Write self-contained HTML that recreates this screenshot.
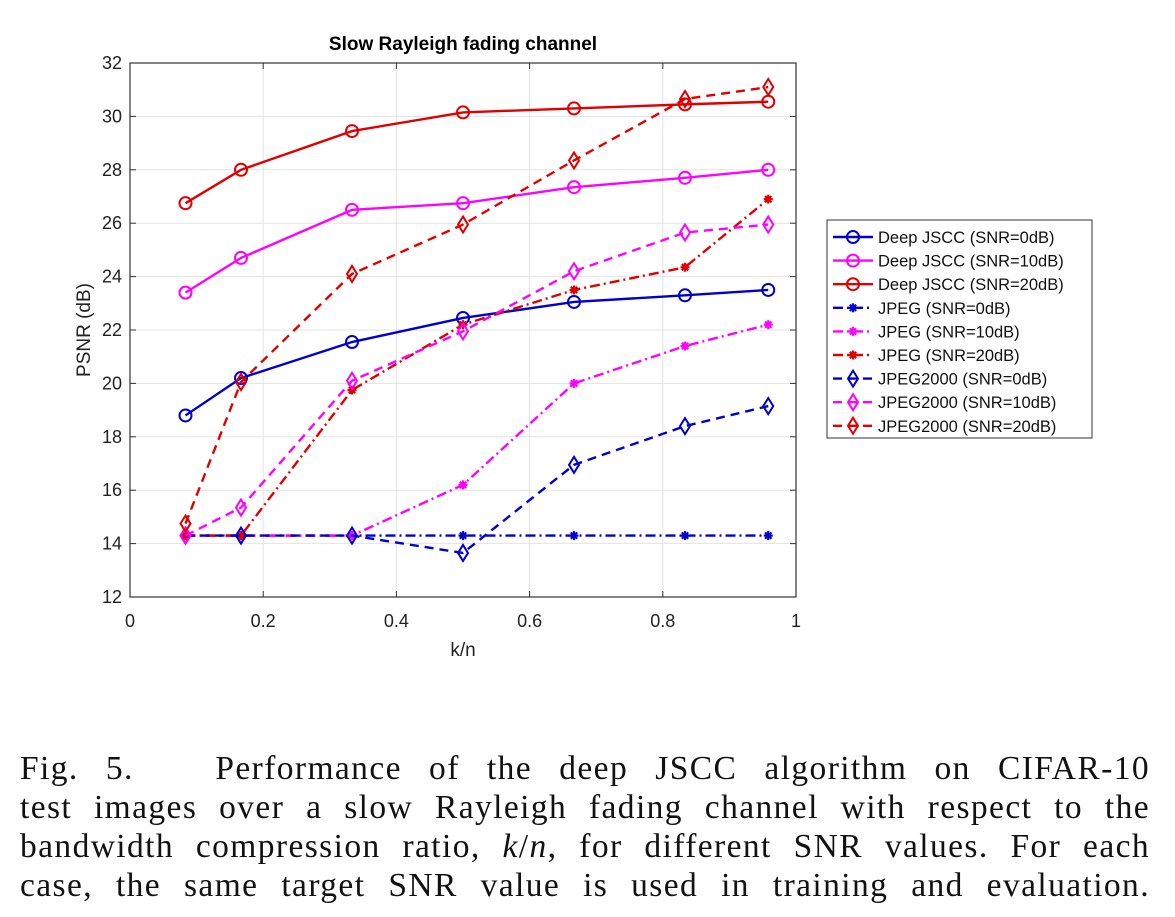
<!DOCTYPE html>
<html><head><meta charset="utf-8"><style>
body{margin:0;background:#fff;width:1175px;height:917px;overflow:hidden;font-family:"Liberation Sans",sans-serif}
#cap{position:absolute;left:20px;top:750px;width:1130px;font-family:"Liberation Serif",serif;font-size:33.5px;line-height:38px;color:#111;letter-spacing:1.4px}
#cap span{display:block;text-align:justify;text-align-last:justify;white-space:normal;height:39px}
</style></head><body>
<svg id="chart" width="1175" height="740" style="position:absolute;left:0;top:0" font-family="Liberation Sans, sans-serif"></svg>
<div id="cap">
<span>Fig. 5.&nbsp;&nbsp; Performance of the deep JSCC algorithm on CIFAR-10</span>
<span>test images over a slow Rayleigh fading channel with respect to the</span>
<span>bandwidth compression ratio, <i>k</i>/<i>n</i>, for different SNR values. For each</span>
<span>case, the same target SNR value is used in training and evaluation.</span>
</div>
<script>
const xs=[1/12,1/6,1/3,1/2,2/3,5/6,23/24];
const dj0=[18.8,20.2,21.55,22.45,23.05,23.3,23.5];
const dj10=[23.4,24.7,26.5,26.75,27.35,27.7,28.0];
const dj20=[26.75,28.0,29.45,30.15,30.3,30.45,30.55];
const jp0=[14.3,14.3,14.3,14.3,14.3,14.3,14.3];
const jp10=[14.3,14.3,14.3,16.2,20.0,21.4,22.2];
const jp20=[14.3,14.3,19.75,22.2,23.5,24.35,26.9];
const jk0=[14.3,14.3,14.3,13.65,16.95,18.4,19.15];
const jk10=[14.3,15.35,20.1,21.95,24.2,25.65,25.95];
const jk20=[14.75,20.05,24.1,25.95,28.35,30.65,31.1];
const xTicks=[0,0.2,0.4,0.6,0.8,1];
const yTicks=[12,14,16,18,20,22,24,26,28,30,32];
const names=["Deep JSCC (SNR=0dB)","Deep JSCC (SNR=10dB)","Deep JSCC (SNR=20dB)","JPEG (SNR=0dB)","JPEG (SNR=10dB)","JPEG (SNR=20dB)","JPEG2000 (SNR=0dB)","JPEG2000 (SNR=10dB)","JPEG2000 (SNR=20dB)"];
const series=[dj0,dj10,dj20,jp0,jp10,jp20,jk0,jk10,jk20];
const B="#0000d0",M="#ff00ff",R="#e00000";
const cols=[B,M,R,B,M,R,B,M,R];
const X0=130,X1=796,Y0=597,Y1=63;
const sx=v=>X0+(X1-X0)*v, sy=v=>Y0-(Y0-Y1)*(v-12)/20;
const svg=document.getElementById('chart');const NS="http://www.w3.org/2000/svg";
function mk(t,a,p){const e=document.createElementNS(NS,t);for(const k in a)e.setAttribute(k,a[k]);(p||svg).appendChild(e);return e;}
for(const t of xTicks){const g=mk('line',{x1:sx(t),x2:sx(t),y1:Y1,y2:Y0,stroke:'#e3e3e3'});
const l=mk('text',{x:sx(t),y:Y0+30,'text-anchor':'middle','font-size':18,fill:'#222'});l.textContent=t;
mk('line',{x1:sx(t),x2:sx(t),y1:Y0,y2:Y0-6,stroke:'#333'});mk('line',{x1:sx(t),x2:sx(t),y1:Y1,y2:Y1+6,stroke:'#333'});}
for(const t of yTicks){const g=mk('line',{x1:X0,x2:X1,y1:sy(t),y2:sy(t),stroke:'#e3e3e3'});
const l=mk('text',{x:X0-8,y:sy(t)+6,'text-anchor':'end','font-size':18,fill:'#222'});l.textContent=t;
mk('line',{x1:X0,x2:X0+6,y1:sy(t),y2:sy(t),stroke:'#333'});mk('line',{x1:X1,x2:X1-6,y1:sy(t),y2:sy(t),stroke:'#333'});}
const ax=mk('rect',{x:X0,y:Y1,width:X1-X0,height:Y0-Y1,fill:'none',stroke:'#333','stroke-width':1.2});
const tt=mk('text',{x:(X0+X1)/2,y:50,'text-anchor':'middle','font-size':19,'font-weight':'bold'});tt.textContent='Slow Rayleigh fading channel';
const xl=mk('text',{x:(X0+X1)/2,y:656,'text-anchor':'middle','font-size':19,fill:'#222'});xl.textContent='k/n';
const yl=mk('text',{x:90,y:330,'text-anchor':'middle','font-size':19,fill:'#222',transform:'rotate(-90 90 330)'});yl.textContent='PSNR (dB)';
function dash(i){return i<3?'':(i<6?'10,4,2,4':'9,6');}
function marker(i,x,y,g){const c=cols[i];
 if(i<3)mk('circle',{cx:x,cy:y,r:6,fill:'none',stroke:c,'stroke-width':2},g);
 else if(i<6){for(const a of[0,45,90,135])mk('line',{x1:x-4.5,x2:x+4.5,y1:y,y2:y,stroke:c,'stroke-width':2.2,transform:`rotate(${a} ${x} ${y})`},g);}
 else mk('polygon',{points:`${x},${y-8} ${x+5},${y} ${x},${y+8} ${x-5},${y}`,fill:'none',stroke:c,'stroke-width':2},g);}
series.forEach((s,i)=>{const g=mk('g',{});
 mk('polyline',{points:s.map((v,j)=>sx(xs[j])+','+sy(v)).join(' '),fill:'none',stroke:cols[i],'stroke-width':2.4,'stroke-dasharray':dash(i)},g);
 s.forEach((v,j)=>marker(i,sx(xs[j]),sy(v),g));});
const lg=mk('g',{});
mk('rect',{x:827,y:220,width:265,height:218,fill:'#fff',stroke:'#333'},lg);
names.forEach((n,i)=>{const y=237+i*23.6;const e=mk('g',{},lg);
 mk('line',{x1:833,x2:873,y1:y,y2:y,stroke:cols[i],'stroke-width':2.4,'stroke-dasharray':dash(i)},e);marker(i,853,y,e);
 const t=mk('text',{x:878,y:y+6,'font-size':16.5,fill:'#111'},e);t.textContent=n;});
</script>
</body></html>
